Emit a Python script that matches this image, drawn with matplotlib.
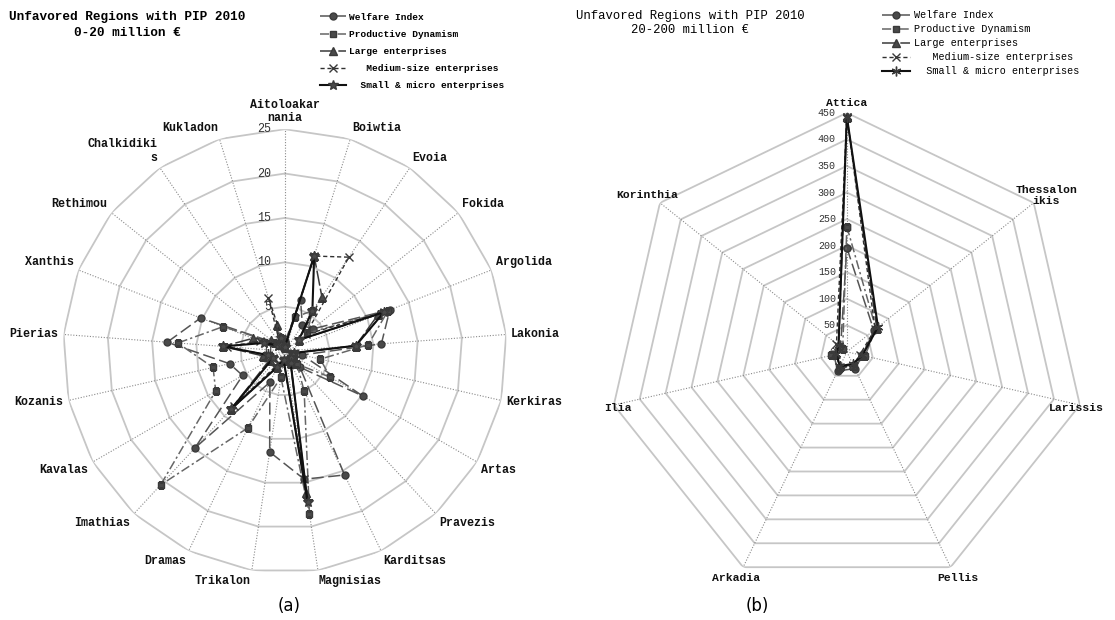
import numpy as np
import matplotlib
matplotlib.use('Agg')
import matplotlib.pyplot as plt
from matplotlib.transforms import offset_copy

# ---------------- data (a) : 0-20 million
regions_a = ['Aitoloakar\nnania', 'Boiwtia', 'Evoia', 'Fokida', 'Argolida', 'Lakonia',
             'Kerkiras', 'Artas', 'Pravezis', 'Karditsas', 'Magnisias', 'Trikalon',
             'Dramas', 'Imathias', 'Kavalas', 'Kozanis', 'Pierias', 'Xanthis',
             'Rethimou', 'Chalkidiki\ns', 'Kukladon']
welfare_a =    [1.0, 6.0, 3.5, 4.0, 12.7, 10.9, 2.0, 10.1, 2.5, 15.5, 14.6, 11.5,
                3.9, 14.9, 5.5, 6.4, 13.3, 10.2, 1.5, 1.0, 1.0]
productive_a = [1.0, 4.0, 5.5, 3.2, 12.5, 9.4, 4.1, 5.9, 2.0, 5.0, 18.6, 3.0,
                9.6, 20.6, 9.0, 8.3, 12.1, 7.5, 1.5, 1.0, 1.5]
large_a =      [0.5, 11.2, 7.4, 2.0, 11.3, 8.0, 1.0, 1.0, 1.0, 1.5, 16.2, 1.0,
                2.0, 8.9, 2.0, 2.5, 7.0, 3.9, 2.0, 1.0, 3.1]
medium_a =     [0.5, 11.2, 12.8, 3.0, 12.0, 8.0, 1.0, 1.0, 1.0, 1.5, 14.6, 1.0,
                1.5, 8.5, 1.5, 2.0, 6.5, 3.0, 1.5, 1.0, 6.3]
small_a =      [0.5, 11.2, 5.5, 2.0, 12.0, 8.0, 1.0, 1.0, 1.0, 1.5, 17.2, 1.0,
                2.0, 8.9, 1.5, 2.0, 7.0, 2.5, 1.0, 0.8, 1.5]
rings_a = [5, 10, 15, 20, 25]
rticks_a = [0, 5, 10, 15, 20, 25]

# ---------------- data (b) : 20-200 million
regions_b = ['Attica', 'Thessalon\nikis', 'Larissis', 'Pellis', 'Arkadia', 'Ilia', 'Korinthia']
welfare_b =    [196, 65, 30, 35, 40, 25, 15]
productive_b = [236, 70, 35, 30, 35, 30, 10]
large_b =      [443, 72, 28, 28, 30, 22, 20]
medium_b =     [443, 68, 25, 30, 32, 20, 25]
small_b =      [443, 75, 30, 25, 30, 20, 20]
rings_b = [50, 100, 150, 200, 250, 300, 350, 400, 450]
rticks_b = [0, 50, 100, 150, 200, 250, 300, 350, 400, 450]

labels = ['Welfare Index', 'Productive Dynamism', 'Large enterprises',
          '   Medium-size enterprises', '  Small & micro enterprises']

MONO = 'Liberation Mono'

fig = plt.figure(figsize=(11.15, 6.2), dpi=100)


def styles(star):
    return [
        dict(color='#555555', marker='o', ms=5, dashes=(8, 3), lw=1.1),
        dict(color='#666666', marker='s', ms=4.5, dashes=(6, 2, 1.5, 2), lw=1.1),
        dict(color='#3a3a3a', marker='^', ms=5.5, dashes=(10, 2), lw=1.1),
        dict(color='#303030', marker='x', ms=6, mew=1.0, dashes=(3, 2), lw=1.0),
        dict(color='#111111', marker=star, ms=7, ls='-', lw=1.5),
    ]


def radar(rect, cats, series, rings, rticks, rmax, star, lab_size, tick_size,
          tick_dx, centered):
    ax = fig.add_axes(rect, projection='polar')
    ax.set_theta_offset(np.pi / 2)
    ax.set_theta_direction(-1)
    ax.set_ylim(0, rmax)
    ax.set_xticks([])
    ax.set_yticks([])
    ax.grid(False)
    ax.spines['polar'].set_visible(False)

    n = len(cats)
    ang = np.arange(n) * 2 * np.pi / n
    closed = np.append(ang, ang[0])

    # polygon rings and dotted spokes
    for r in rings:
        ax.plot(closed, [r] * (n + 1), color='#c6c6c6', lw=1.3, zorder=1)
    for a in ang:
        ax.plot([a, a], [0, rmax], color='#8a8a8a', lw=0.8, ls=(0, (1, 1.5)), zorder=1)

    # radial values next to the first spoke
    tr = offset_copy(ax.transData, fig=fig, x=tick_dx, y=0, units='dots')
    for t in rticks:
        ax.text(0, t, str(t), transform=tr, ha='right', va='center',
                family=MONO, fontsize=tick_size, color='#333333', zorder=2)

    # category names
    for a, name in zip(ang, cats):
        s, c = np.sin(a), np.cos(a)
        if centered:
            ha, va = 'center', 'center'
            if c > 0.95:
                va = 'bottom'
                dx, dy = 0, 5
            else:
                dx = 16 * s if abs(s) < 0.9 else -4 * s
                dy = 12 * c
        else:
            ha = 'left' if s > 0.1 else ('right' if s < -0.1 else 'center')
            va = 'bottom' if c > 0.3 else ('top' if c < -0.3 else 'center')
            dx, dy = 5 * s, 5 * c
        trl = offset_copy(ax.transData, fig=fig, x=dx, y=dy, units='dots')
        ax.text(a, rmax, name, transform=trl, ha=ha, va=va, family=MONO,
                fontsize=lab_size, fontweight='bold', linespacing=1.15,
                color='#111111')

    handles = []
    for vals, st, lb in zip(series, styles(star), labels):
        h, = ax.plot(closed, np.append(vals, vals[0]), label=lb, zorder=3,
                     mfc='#4a4a4a', mec='#3a3a3a', **st)
        handles.append(h)
    return ax, handles


ax_a, h_a = radar([0.0565, 0.0758, 0.398, 0.716], regions_a,
                  [welfare_a, productive_a, large_a, medium_a, small_a],
                  rings_a, rticks_a, 25, '*', 8.4, 8.4, -14, False)
ax_b, h_b = radar([0.545, 0.047, 0.429, 0.771], regions_b,
                  [welfare_b, productive_b, large_b, medium_b, small_b],
                  rings_b, rticks_b, 450, (6, 2, 0), 8.2, 7.2, -11, True)

# titles
fig.text(127 / 1115, 1 - 25 / 620, 'Unfavored Regions with PIP 2010\n0-20 million \u20ac',
         ha='center', va='center', family=MONO, fontsize=9.2, fontweight='bold',
         linespacing=1.35)
fig.text(690 / 1115, 1 - 23 / 620, 'Unfavored Regions with PIP 2010\n20-200 million \u20ac',
         ha='center', va='center', family=MONO, fontsize=8.8, linespacing=1.25)

# legends
fig.legend(handles=h_a, loc='upper left', bbox_to_anchor=(313 / 1115, 1 - 6 / 620),
           frameon=False, prop=dict(family=MONO, size=6.8, weight='bold'),
           handlelength=2.8, handletextpad=0.3, labelspacing=0.87, borderpad=0.2)
fig.legend(handles=h_b, loc='upper left', bbox_to_anchor=(875 / 1115, 1 - 3 / 620),
           frameon=False, prop=dict(family=MONO, size=7.3),
           handlelength=2.8, handletextpad=0.3, labelspacing=0.4, borderpad=0.2)

fig.text(289 / 1115, 1 - 606 / 620, '(a)', ha='center', va='center', fontsize=12)
fig.text(757 / 1115, 1 - 606 / 620, '(b)', ha='center', va='center', fontsize=12)

fig.savefig('out.png', dpi=100, facecolor='white')
